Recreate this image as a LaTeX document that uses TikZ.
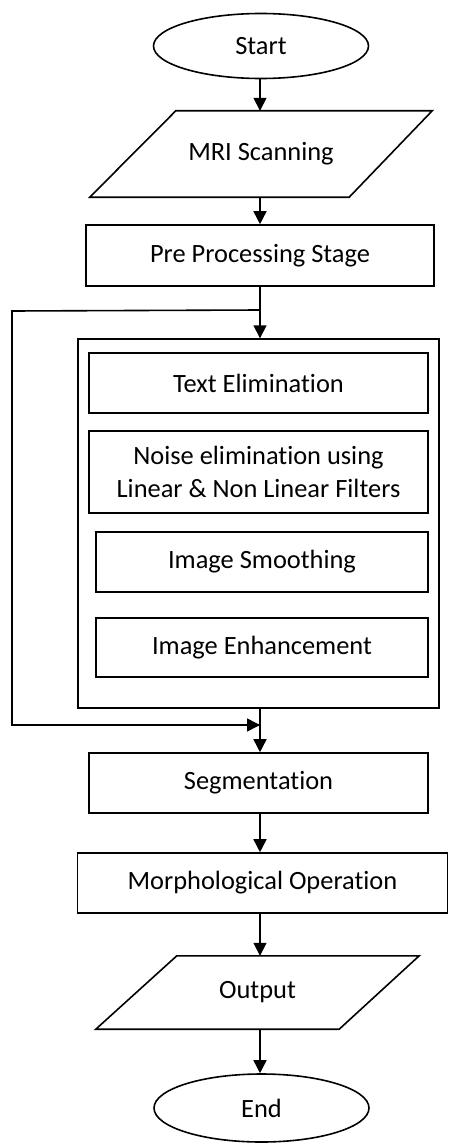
\documentclass[tikz,border=0pt]{standalone}
\usepackage{fontspec}
\setmainfont{Carlito}[Ligatures={NoCommon}]
\usetikzlibrary{arrows.meta,shapes.geometric,calc}
\begin{document}
\begin{tikzpicture}[x=1pt,y=-1pt,
  every node/.style={font=\fontsize{26.4}{32.5}\selectfont, inner sep=0pt, align=center},
  box/.style={draw, line width=1.6pt, rectangle},
  oval/.style={draw, line width=1.6pt, ellipse},
  para/.style={rectangle},
  conn/.style={line width=1.6pt, -{Triangle[width=13pt,length=13pt]}},
  plain/.style={line width=1.6pt}]
\useasboundingbox (0,0) rectangle (449,1145);
% nodes
\node[oval, minimum width=215pt, minimum height=65pt] (start) at (261,46) {Start};
\node[para, minimum width=342pt, minimum height=86pt] (mri) at (261,154) {MRI Scanning};
\draw[line width=1.6pt, line join=miter] ($(mri.north west)+(86,0)$) -- (mri.north east) -- ($(mri.south east)+(-83,0)$) -- (mri.south west) -- cycle;
\node[box, minimum width=348pt, minimum height=61pt] (pre) at (260,255.5) {Pre Processing Stage};
\node[box, minimum width=361pt, minimum height=369pt, line width=1.4pt] (outer) at (258.5,523.5) {};
\node[box, minimum width=339pt, minimum height=60pt] (te) at (258.5,383) {Text Elimination};
\node[box, minimum width=339pt, minimum height=82pt] (noise) at (258.5,472) {Noise elimination using\\Linear \& Non Linear Filters};
\node[box, minimum width=332pt, minimum height=60pt] (smooth) at (262,562) {Image Smoothing};
\node[box, minimum width=332pt, minimum height=59pt] (enh) at (262,647.5) {Image Enhancement};
\node[box, minimum width=339pt, minimum height=60pt] (seg) at (258.5,783) {Segmentation};
\node[box, minimum width=370pt, minimum height=60pt] (morph) at (262.5,883) {Morphological Operation};
\node[para, minimum width=323pt, minimum height=73pt] (out) at (257.5,992.5) {Output};
\draw[line width=1.6pt, line join=miter] ($(out.north west)+(81,0)$) -- (out.north east) -- ($(out.south east)+(-80,0)$) -- (out.south west) -- cycle;
\node[oval, minimum width=215pt, minimum height=68pt] (end) at (261.5,1108) {End};
% connectors
\coordinate (j1) at (pre.south |- 0,310);
\coordinate (lp1) at (12,311);
\coordinate (lp2) at (12,725);
\coordinate (j2) at (pre.south |- 0,725);
\draw[conn] (start.south -| pre.south) -- (pre.south |- mri.north);
\draw[conn] (pre.south |- mri.south) -- (pre.north);
\draw[conn] (pre.south) -- (pre.south |- outer.north);
\draw[plain, line join=miter] (j1) -- (lp1) -- (lp2) -- (j2);
\draw[conn] (lp2) -- (j2);
\draw[conn] (pre.south |- outer.south) -- (pre.south |- seg.north);
\draw[conn] (pre.south |- seg.south) -- (pre.south |- morph.north);
\draw[conn] (pre.south |- morph.south) -- (pre.south |- out.north);
\draw[conn] (pre.south |- out.south) -- (pre.south |- end.north);
\end{tikzpicture}
\end{document}
